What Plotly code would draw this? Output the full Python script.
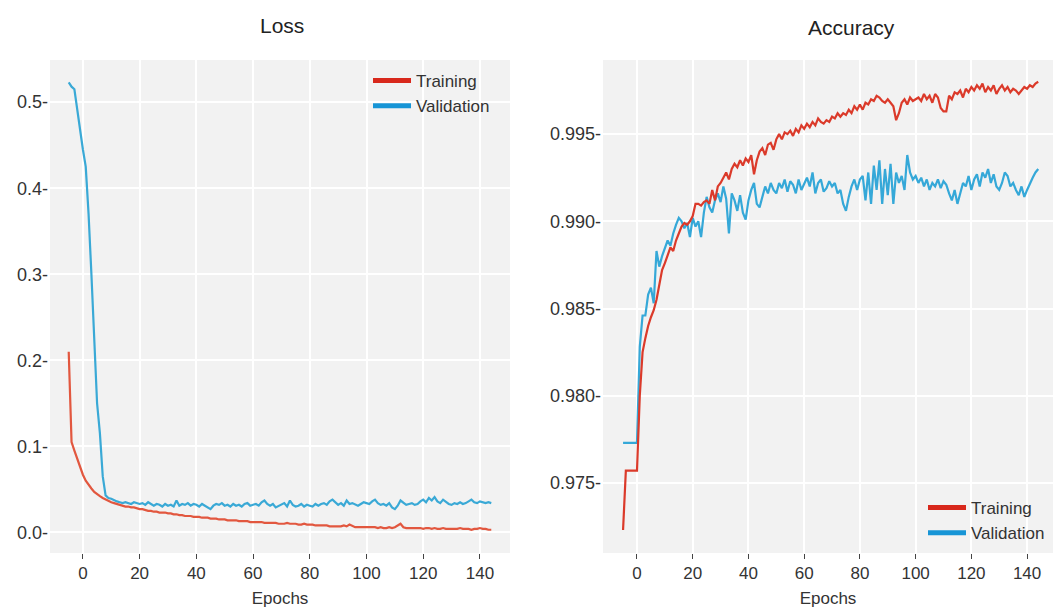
import plotly.graph_objects as go

epochs = list(range(-5, 145))

loss_train = [0.210, 0.105, 0.095, 0.085, 0.075, 0.067, 0.060, 0.055, 0.051, 0.047,
              0.044, 0.042, 0.040, 0.038, 0.036, 0.035,
              0.034, 0.033, 0.032, 0.031, 0.030, 0.030, 0.029, 0.029, 0.028, 0.027,
              0.027, 0.026, 0.025, 0.025, 0.024, 0.024, 0.023, 0.023, 0.023, 0.022,
              0.022, 0.021, 0.021, 0.020, 0.020, 0.019, 0.019, 0.019, 0.018, 0.018,
              0.018, 0.017, 0.017, 0.017, 0.016, 0.016, 0.016, 0.015, 0.015, 0.015,
              0.014, 0.014, 0.014, 0.014, 0.013, 0.013, 0.013, 0.013, 0.012, 0.012,
              0.012, 0.012, 0.012, 0.011, 0.011, 0.011, 0.011, 0.011, 0.010, 0.010,
              0.010, 0.011, 0.010, 0.010, 0.010, 0.009, 0.009, 0.010, 0.009, 0.009,
              0.009, 0.008, 0.008, 0.008, 0.008, 0.008, 0.007, 0.007, 0.007, 0.007,
              0.007, 0.008, 0.007, 0.009, 0.007, 0.006, 0.006, 0.006, 0.006, 0.006,
              0.006, 0.006, 0.006, 0.005, 0.006, 0.005, 0.005, 0.006, 0.005, 0.006,
              0.008, 0.010, 0.006, 0.005, 0.005, 0.005, 0.005, 0.005, 0.005, 0.004,
              0.005, 0.005, 0.004, 0.005, 0.004, 0.004, 0.005, 0.004, 0.004, 0.004,
              0.004, 0.004, 0.005, 0.004, 0.004, 0.004, 0.003, 0.004, 0.004, 0.005,
              0.004, 0.004, 0.003, 0.003]

loss_val = [0.523, 0.518, 0.515, 0.490, 0.465, 0.445, 0.425, 0.370, 0.300, 0.230,
            0.150, 0.115, 0.065, 0.043, 0.040, 0.039,
            0.037, 0.036, 0.035, 0.034, 0.035, 0.034, 0.033, 0.035, 0.034, 0.033,
            0.034, 0.032, 0.035, 0.033, 0.031, 0.033, 0.032, 0.030, 0.033, 0.031,
            0.032, 0.030, 0.037, 0.031, 0.033, 0.032, 0.034, 0.031, 0.033, 0.032,
            0.030, 0.033, 0.031, 0.029, 0.027, 0.031, 0.033, 0.032, 0.034, 0.031,
            0.032, 0.030, 0.033, 0.031, 0.032, 0.030, 0.033, 0.034, 0.031, 0.032,
            0.033, 0.031, 0.035, 0.037, 0.033, 0.031, 0.033, 0.029, 0.031, 0.032,
            0.034, 0.030, 0.037, 0.032, 0.030, 0.031, 0.033, 0.030, 0.032, 0.031,
            0.030, 0.033, 0.031, 0.033, 0.034, 0.032, 0.036, 0.038, 0.035, 0.032,
            0.034, 0.031, 0.037, 0.033, 0.034, 0.032, 0.031, 0.033, 0.035, 0.034,
            0.033, 0.036, 0.038, 0.034, 0.032, 0.033, 0.031, 0.034, 0.029, 0.027,
            0.031, 0.037, 0.034, 0.032, 0.033, 0.034, 0.032, 0.033, 0.036, 0.038,
            0.035, 0.040, 0.037, 0.041, 0.036, 0.034, 0.038, 0.035, 0.033, 0.032,
            0.034, 0.033, 0.035, 0.033, 0.034, 0.036, 0.038, 0.035, 0.034, 0.036,
            0.035, 0.034, 0.035, 0.034]

acc_train = [0.9723, 0.9757, 0.9757, 0.9757, 0.9757, 0.9757, 0.9800, 0.9825, 0.9833, 0.9840,
             0.9845, 0.9849, 0.9855, 0.9864, 0.9872, 0.9876,
             0.9880, 0.9885, 0.9883, 0.9889, 0.9893, 0.9897, 0.9899, 0.9898, 0.9900, 0.9903,
             0.9910, 0.9910, 0.9909, 0.9911, 0.9912, 0.9910, 0.9918, 0.9912, 0.9920, 0.9922,
             0.9925, 0.9928, 0.9924, 0.9930, 0.9933, 0.9931, 0.9935, 0.9932, 0.9936, 0.9934,
             0.9938, 0.9927, 0.9935, 0.9940, 0.9942, 0.9938, 0.9944, 0.9945, 0.9941, 0.9947,
             0.9950, 0.9947, 0.9951, 0.9950, 0.9952, 0.9949, 0.9953, 0.9951, 0.9955, 0.9953,
             0.9956, 0.9954, 0.9957, 0.9955, 0.9959, 0.9957, 0.9956, 0.9958, 0.9957, 0.9960,
             0.9959, 0.9962, 0.9960, 0.9962, 0.9961, 0.9964, 0.9962, 0.9966, 0.9964, 0.9967,
             0.9964, 0.9968, 0.9967, 0.9970, 0.9969, 0.9972, 0.9971, 0.9969, 0.9968, 0.9970,
             0.9968, 0.9966, 0.9958, 0.9962, 0.9968, 0.9970, 0.9967, 0.9971, 0.9969, 0.9970,
             0.9971, 0.9969, 0.9973, 0.9970, 0.9972, 0.9968, 0.9973, 0.9971, 0.9965, 0.9963,
             0.9963, 0.9972, 0.9970, 0.9974, 0.9973, 0.9975, 0.9971, 0.9976, 0.9974, 0.9977,
             0.9975, 0.9978, 0.9976, 0.9979, 0.9974, 0.9977, 0.9975, 0.9978, 0.9973, 0.9976,
             0.9978, 0.9975, 0.9977, 0.9974, 0.9976, 0.9975, 0.9973, 0.9975, 0.9977, 0.9976,
             0.9978, 0.9977, 0.9979, 0.9980]

acc_val = [0.9773, 0.9773, 0.9773, 0.9773, 0.9773, 0.9773, 0.9828, 0.9846, 0.9846, 0.9858,
           0.9862, 0.9853, 0.9883, 0.9874, 0.9880, 0.9884,
           0.9889, 0.9886, 0.9893, 0.9898, 0.9902, 0.9900, 0.9896, 0.9899, 0.9891, 0.9902,
           0.9897, 0.9900, 0.9891, 0.9905, 0.9914, 0.9908, 0.9905, 0.9912, 0.9916, 0.9911,
           0.9920, 0.9913, 0.9893, 0.9916, 0.9912, 0.9906, 0.9915, 0.9905, 0.9901, 0.9912,
           0.9918, 0.9922, 0.9910, 0.9908, 0.9914, 0.9920, 0.9916, 0.9922, 0.9918, 0.9916,
           0.9922, 0.9919, 0.9924, 0.9917, 0.9923, 0.9921, 0.9916, 0.9924, 0.9918, 0.9922,
           0.9925, 0.9920, 0.9928, 0.9916, 0.9922, 0.9924, 0.9917, 0.9919, 0.9923, 0.9920,
           0.9922, 0.9916, 0.9918, 0.9910, 0.9906, 0.9914, 0.9920, 0.9924, 0.9918, 0.9924,
           0.9926, 0.9912, 0.9928, 0.9910, 0.9932, 0.9918, 0.9935, 0.9910, 0.9930, 0.9915,
           0.9933, 0.9910, 0.9928, 0.9922, 0.9926, 0.9918, 0.9938, 0.9928, 0.9924, 0.9926,
           0.9922, 0.9925, 0.9920, 0.9924, 0.9918, 0.9922, 0.9920, 0.9924, 0.9919, 0.9923,
           0.9921, 0.9916, 0.9912, 0.9918, 0.9910, 0.9916, 0.9922, 0.9920, 0.9926, 0.9918,
           0.9924, 0.9927, 0.9920, 0.9928, 0.9925, 0.9930, 0.9922, 0.9927, 0.9920, 0.9918,
           0.9922, 0.9928, 0.9926, 0.9920, 0.9922, 0.9918, 0.9915, 0.9920, 0.9914, 0.9918,
           0.9922, 0.9925, 0.9928, 0.9930]

x_ticks = [0, 20, 40, 60, 80, 100, 120, 140]
loss_ticks = [0.0, 0.1, 0.2, 0.3, 0.4, 0.5]
loss_tick_labels = ["0.0-", "0.1-", "0.2-", "0.3-", "0.4-", "0.5-"]
acc_ticks = [0.975, 0.980, 0.985, 0.990, 0.995]
acc_tick_labels = ["0.975-", "0.980-", "0.985-", "0.990-", "0.995-"]

series_names = ["Training", "Validation"]
loss_colors = ["#e2573f", "#3aa9d6"]
acc_colors = ["#db3a2a", "#35a8d8"]
legend_colors = ["#d8281c", "#1795d6"]

FONT = "Liberation Sans, Arial, sans-serif"
W, H = 1056, 608

fig = go.Figure()

# Loss panel
fig.add_trace(go.Scatter(x=epochs, y=loss_val, mode="lines", line=dict(color=loss_colors[1], width=2.2),
                         showlegend=False, xaxis="x", yaxis="y"))
fig.add_trace(go.Scatter(x=epochs, y=loss_train, mode="lines", line=dict(color=loss_colors[0], width=2.2),
                         showlegend=False, xaxis="x", yaxis="y"))
# Accuracy panel
fig.add_trace(go.Scatter(x=epochs, y=acc_val, mode="lines", line=dict(color=acc_colors[1], width=2.2),
                         showlegend=False, xaxis="x2", yaxis="y2"))
fig.add_trace(go.Scatter(x=epochs, y=acc_train, mode="lines", line=dict(color=acc_colors[0], width=2.2),
                         showlegend=False, xaxis="x2", yaxis="y2"))

# Legend entries
for lg, xa, ya in [("legend", "x", "y"), ("legend2", "x2", "y2")]:
    for name, col in zip(series_names, legend_colors):
        fig.add_trace(go.Scatter(x=[None], y=[None], mode="lines", name=name,
                                 line=dict(color=col, width=5), legend=lg, xaxis=xa, yaxis=ya))

ydom = [1 - 553 / H, 1 - 60 / H]
common_x = dict(tickvals=x_ticks, showgrid=True, gridcolor="white", gridwidth=1.5, zeroline=False,
                ticks="outside", ticklen=5, tickcolor="#444", tickwidth=1,
                tickfont=dict(family=FONT, size=17, color="#333"), showline=False,
                title=dict(text="Epochs", font=dict(family=FONT, size=17, color="#333"), standoff=9))
common_y = dict(showgrid=True, gridcolor="white", gridwidth=1.5, zeroline=False, ticks="",
                tickfont=dict(family=FONT, size=18, color="#333"), showline=False, ticklabelstandoff=1)

legend_common = dict(xanchor="left", yanchor="top", bgcolor="rgba(0,0,0,0)",
                     font=dict(family=FONT, size=17, color="#333"), tracegroupgap=0, itemwidth=38)

fig.update_layout(
    width=W, height=H,
    margin=dict(l=0, r=0, t=0, b=0),
    paper_bgcolor="white",
    plot_bgcolor="#f2f2f2",
    font=dict(family=FONT, color="#333"),
    xaxis=dict(domain=[50 / W, 510 / W], range=[-11.6, 150.6], anchor="y", **common_x),
    yaxis=dict(domain=ydom, range=[-0.024, 0.549], anchor="x", tickvals=loss_ticks,
               ticktext=loss_tick_labels, **common_y),
    xaxis2=dict(domain=[603 / W, 1053 / W], range=[-12.2, 149.3], anchor="y2", **common_x),
    yaxis2=dict(domain=ydom, range=[0.97098, 0.99925], anchor="x2", tickvals=acc_ticks,
                ticktext=acc_tick_labels, **common_y),
    legend=dict(x=368 / W, y=1 - 63 / H, **legend_common),
    legend2=dict(x=923 / W, y=1 - 490 / H, **legend_common),
    annotations=[
        dict(text="Loss", x=282 / W, y=1 - 25 / H, xref="paper", yref="paper", showarrow=False,
             font=dict(family=FONT, size=21, color="#222"), xanchor="center", yanchor="middle"),
        dict(text="Accuracy", x=851 / W, y=1 - 28 / H, xref="paper", yref="paper", showarrow=False,
             font=dict(family=FONT, size=21, color="#222"), xanchor="center", yanchor="middle"),
    ],
)

fig.write_html("out.html")
